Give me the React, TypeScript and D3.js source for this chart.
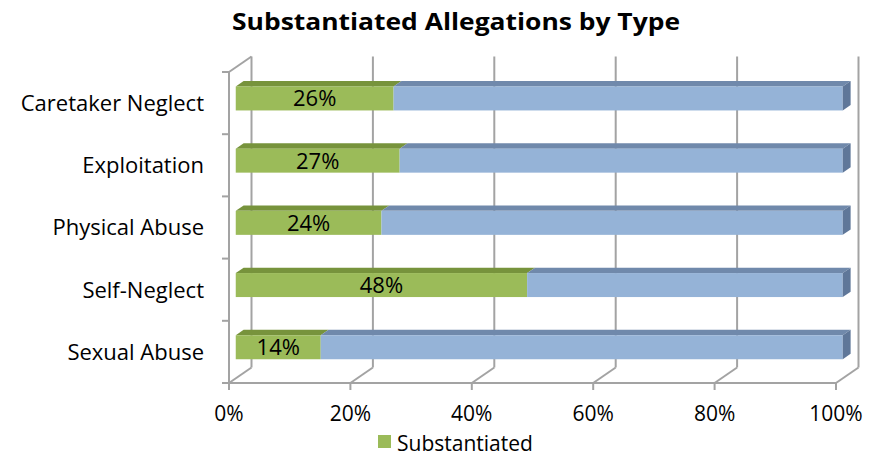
import React from "react";
import * as d3 from "d3";

const categories = ["Caretaker Neglect", "Exploitation", "Physical Abuse", "Self-Neglect", "Sexual Abuse"];
const substantiated = [26, 27, 24, 48, 14];
const remainder = substantiated.map((v) => 100 - v);
const xTicks = [0, 20, 40, 60, 80, 100];
const title = "Substantiated Allegations by Type";
const legendLabel = "Substantiated";

const W = 870;
const H = 458;
const FONT = "'Open Sans', Lato, 'Liberation Sans', sans-serif";
const FS = 21;

export default function App() {
  const x = d3.scaleLinear().domain([0, 100]).range([229, 836]);
  const y = d3.scaleBand<string>().domain(categories).range([72, 383]).padding(0);
  const D = { x: 22.5, y: -15.5 };
  const f0 = 0.3;
  const f1 = 0.65;
  const barH = 24;
  const grid = "#a3a3a3";
  const gw = 2;

  const floorY = y.range()[1];
  const topY = y.range()[0];

  const pts = (a: number[][]) => a.map((p) => p.join(",")).join(" ");

  return (
    <svg width={W} height={H} style={{ display: "block", position: "absolute", left: 0, top: 0 }}>
      <rect width={W} height={H} fill="#fff" />
      <text x={456} y={30} textAnchor="middle" fontFamily={FONT} fontWeight="bold" fontSize={23} textLength={448} lengthAdjust="spacingAndGlyphs">
        {title}
      </text>
      {xTicks.map((t) => (
        <g key={"g" + t}>
          <line x1={x(t) + D.x} x2={x(t) + D.x} y1={topY + D.y} y2={floorY + D.y} stroke={grid} strokeWidth={gw} />
          <line x1={x(t)} y1={floorY} x2={x(t) + D.x} y2={floorY + D.y} stroke={grid} strokeWidth={gw} />
          <line x1={x(t)} x2={x(t)} y1={floorY} y2={floorY + 7} stroke={grid} strokeWidth={gw} />
        </g>
      ))}
      <line x1={x(0)} x2={x(100)} y1={floorY} y2={floorY} stroke={grid} strokeWidth={gw} />
      <line x1={x(0)} x2={x(0)} y1={topY} y2={floorY} stroke={grid} strokeWidth={gw} />
      <line x1={x(0)} y1={topY} x2={x(0) + D.x} y2={topY + D.y} stroke={grid} strokeWidth={gw} />
      {d3.range(categories.length + 1).map((i) => {
        const yy = topY + i * y.bandwidth();
        return <line key={"t" + i} x1={x(0) - 7} x2={x(0)} y1={yy} y2={yy} stroke={grid} strokeWidth={gw} />;
      })}
      {categories.map((c, i) => {
        const cy = (y(c) as number) + y.bandwidth() / 2;
        const ox = f0 * D.x;
        const oy = f0 * D.y;
        const dx = (f1 - f0) * D.x;
        const dy = (f1 - f0) * D.y;
        const yt = cy - barH / 2 + oy;
        const yb = yt + barH;
        const xa = x(0) + ox;
        const xb = x(substantiated[i]) + ox;
        const xc = x(substantiated[i] + remainder[i]) + ox;
        return (
          <g key={c}>
            <polygon points={pts([[xa, yt], [xb, yt], [xb + dx, yt + dy], [xa + dx, yt + dy]])} fill="#77933c" />
            <rect x={xa} y={yt} width={xb - xa} height={barH} fill="#9bbb59" />
            <polygon points={pts([[xb, yt], [xc, yt], [xc + dx, yt + dy], [xb + dx, yt + dy]])} fill="#7089ab" />
            <rect x={xb} y={yt} width={xc - xb} height={barH} fill="#95b3d7" />
            <polygon points={pts([[xc, yt], [xc + dx, yt + dy], [xc + dx, yb + dy], [xc, yb]])} fill="#5f7799" />
            <text x={(xa + xb) / 2} y={cy + oy} dy="0.36em" textAnchor="middle" fontFamily={FONT} fontSize={22} fill="#000">
              {substantiated[i]}%
            </text>
            <text x={204} y={cy} dy="0.36em" textAnchor="end" fontFamily={FONT} fontSize={22} fill="#000">
              {c}
            </text>
          </g>
        );
      })}
      {xTicks.map((t) => (
        <text key={"l" + t} x={x(t)} y={413} dy="0.36em" textAnchor="middle" fontFamily={FONT} fontSize={FS} fill="#000">
          {t}%
        </text>
      ))}
      <rect x={378} y={435} width={13} height={13} fill="#9bbb59" />
      <text x={397} y={443} dy="0.36em" fontFamily={FONT} fontSize={FS} fill="#000">
        {legendLabel}
      </text>
    </svg>
  );
}
